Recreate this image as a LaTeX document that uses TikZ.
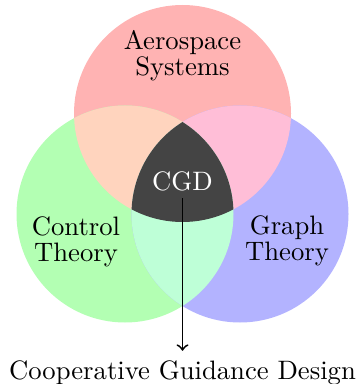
\documentclass[tikz,border=0pt]{standalone}
\definecolor{cred}{RGB}{255,179,179}
\definecolor{cgreen}{RGB}{179,255,179}
\definecolor{cblue}{RGB}{179,179,255}
\definecolor{cpeach}{RGB}{255,212,190}
\definecolor{cpink}{RGB}{255,190,215}
\definecolor{cmint}{RGB}{190,255,215}
\definecolor{cdark}{RGB}{68,68,68}
\begin{document}
\begin{tikzpicture}[x=0.375pt,y=-0.375pt,
  lbl/.style={font=\fontsize{10pt}{9.8pt}\selectfont, align=center},
  arr/.style={->, black, line width=0.7pt}]
\useasboundingbox (0,0) rectangle (360,384);
\def\ctop{(182.5,113.5) circle (108.5)}
\def\cleft{(125,214) circle (108.5)}
\def\cright{(240,214) circle (108.5)}
\fill[cred] \ctop;
\fill[cgreen] \cleft;
\fill[cblue] \cright;
\begin{scope}
  \clip \ctop; \fill[cpeach] \cleft;
\end{scope}
\begin{scope}
  \clip \ctop; \fill[cpink] \cright;
\end{scope}
\begin{scope}
  \clip \cleft; \fill[cmint] \cright;
\end{scope}
\begin{scope}
  \clip \ctop; \clip \cleft; \fill[cdark] \cright;
\end{scope}
\node[lbl] (aero) at (182.5,55.5) {Aerospace\\Systems};
\node[lbl] (ctrl) at (76,241.9) {Control\\Theory};
\node[lbl] (graph) at (287,240.4) {Graph\\Theory};
\node[anchor=base, text=white, inner sep=2.25pt] (cgd) at (182.5,191) {CGD};
\node[anchor=base] (coop) at (182.5,379) {Cooperative Guidance Design};
\draw[arr] (cgd.south) -- (cgd.south |- coop.north);
\end{tikzpicture}
\end{document}
